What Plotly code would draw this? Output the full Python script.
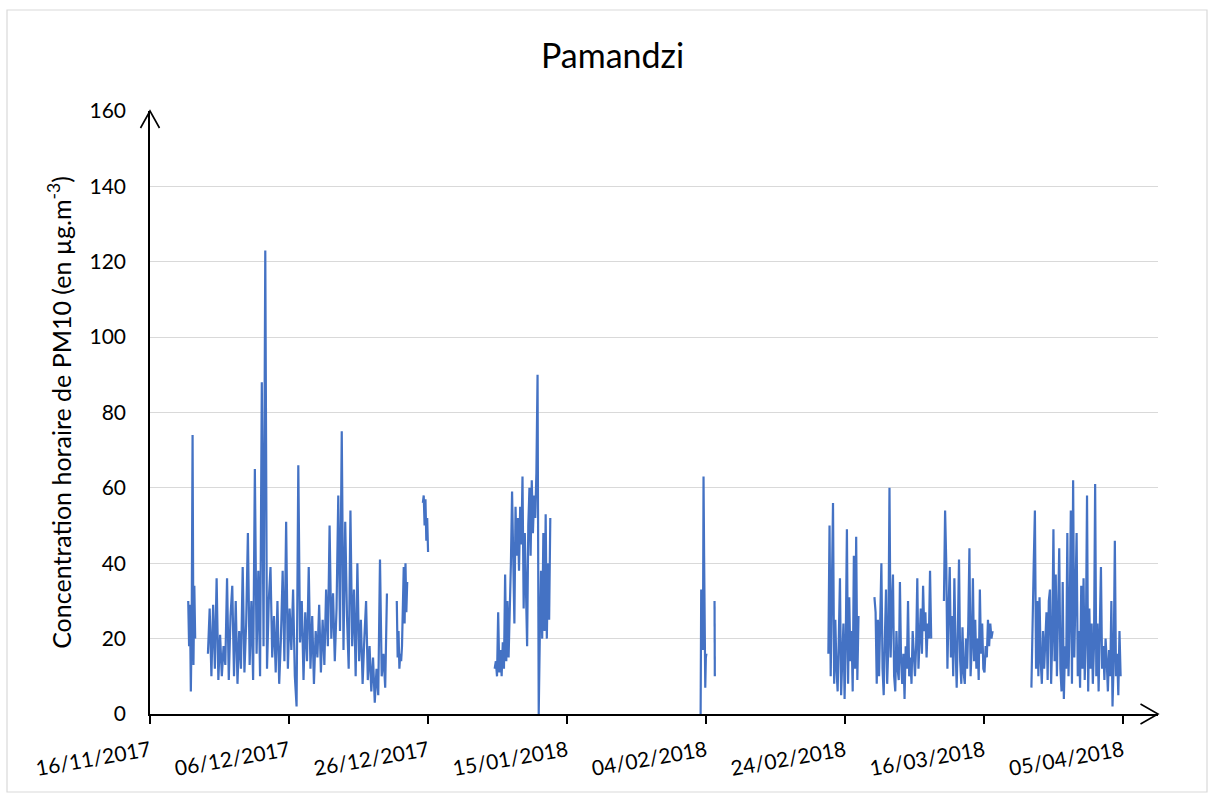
import pandas as pd
import plotly.graph_objects as go

# ---------------- data ----------------
seg1a_start, seg1a_step = "2017-11-21 12:00", "3h"
seg1a_values = [30, 18, 29, 6, 25, 74, 13, 34, 20]

seg1b_start, seg1b_step = "2017-11-24 08:00", "6h"
seg1b_values = [16, 28, 10, 29, 12, 36, 9, 21, 10, 18,
                13, 36, 9, 26, 34, 10, 30, 8, 22, 12,
                39, 11, 24, 48, 13, 30, 9, 65, 16, 38,
                10, 88, 18, 123, 12, 30, 39, 15, 26, 11,
                30, 8, 20, 38, 14, 51, 12, 28, 17, 33,
                10, 2, 66, 19, 30, 9, 27, 14, 39, 12,
                26, 8, 22, 15, 29, 11, 25, 13, 33, 18,
                50, 20, 32, 14, 28, 58, 22, 75, 17, 51,
                26, 12, 54, 18, 33, 10, 40, 14, 25, 8,
                20, 30, 9, 18, 6, 15, 3, 12, 5, 41,
                10, 16, 7, 32]

seg1c_start, seg1c_step = "2017-12-21 12:00", "3h"
seg1c_values = [30, 15, 22, 12, 16, 14, 18, 28, 39, 24, 40, 27, 35]

seg1d_start, seg1d_step = "2017-12-25 06:00", "3h"
seg1d_values = [56, 58, 50, 57, 46, 52, 43]

seg2_start, seg2_step = "2018-01-04 14:00", "4h"
seg2_values = [12, 14, 10, 27, 11, 17, 10, 19, 12, 37,
               14, 30, 15, 27, 40, 59, 35, 24, 55, 42,
               52, 38, 55, 45, 63, 28, 48, 35, 18, 50,
               60, 42, 62, 48, 58, 52, 64, 90, 0, 22,
               38, 20, 48, 22, 53, 20, 40, 25, 52]

seg3a_start, seg3a_step = "2018-02-03 05:00", "2h"
seg3a_values = [0, 33, 20, 31, 17, 63, 42, 25, 7, 15, 16]

seg3b_start, seg3b_step = "2018-02-05 05:00", "1h"
seg3b_values = [30, 10]

seg4_start, seg4_step = "2018-02-21 14:00", "4h"
seg4_values = [16, 50, 10, 28, 56, 8, 25, 12, 6, 20,
               36, 5, 15, 24, 4, 19, 49, 8, 31, 14,
               22, 6, 42, 12, 47, 9, 26]

seg5_start, seg5_step = "2018-02-28 05:00", "4h"
seg5_values = [31, 27, 8, 25, 10, 30, 40, 12, 5, 20,
               33, 8, 18, 60, 15, 28, 37, 10, 6, 22,
               12, 9, 35, 14, 8, 16, 4, 18, 12, 30,
               10, 15, 8, 22, 14, 10, 18, 36, 12, 20,
               28, 16, 34, 22, 27, 15, 24, 20, 38, 20]

seg6_start, seg6_step = "2018-03-10 05:00", "4h"
seg6_values = [30, 54, 40, 12, 28, 39, 15, 26, 10, 36,
               18, 7, 22, 41, 14, 8, 23, 11, 8, 20,
               12, 24, 44, 10, 18, 36, 14, 25, 12, 20,
               9, 33, 16, 24, 12, 11, 18, 15, 25, 18,
               24, 20, 22]

seg7_start, seg7_step = "2018-03-22 19:00", "4h"
seg7_values = [7, 29, 40, 54, 12, 30, 10, 31, 14, 8,
               22, 12, 20, 27, 9, 30, 33, 8, 20, 49,
               14, 37, 10, 25, 44, 12, 6, 35, 4, 18,
               12, 48, 10, 25, 54, 8, 62, 15, 39, 48,
               10, 22, 7, 34, 12, 36, 9, 20, 58, 6,
               28, 12, 24, 8, 18, 61, 10, 24, 6, 20,
               39, 12, 18, 9, 20, 14, 6, 17, 10, 30,
               2, 14, 46, 10, 16, 5, 22, 10]

tick_dates = ["2017-11-16", "2017-12-06", "2017-12-26", "2018-01-15",
              "2018-02-04", "2018-02-24", "2018-03-16", "2018-04-05"]
tick_labels = ["16/11/2017", "06/12/2017", "26/12/2017", "15/01/2018",
               "04/02/2018", "24/02/2018", "16/03/2018", "05/04/2018"]
y_ticks = [0, 20, 40, 60, 80, 100, 120, 140, 160]

title_text = "Pamandzi"
y_title = "Concentration horaire de PM10 (en µg.m<sup>-3</sup>)"

# ---------------- build series ----------------
segments = [
    (seg1a_start, seg1a_step, seg1a_values),
    (seg1b_start, seg1b_step, seg1b_values),
    (seg1c_start, seg1c_step, seg1c_values),
    (seg1d_start, seg1d_step, seg1d_values),
    (seg2_start, seg2_step, seg2_values),
    (seg3a_start, seg3a_step, seg3a_values),
    (seg3b_start, seg3b_step, seg3b_values),
    (seg4_start, seg4_step, seg4_values),
    (seg5_start, seg5_step, seg5_values),
    (seg6_start, seg6_step, seg6_values),
    (seg7_start, seg7_step, seg7_values),
]
xs, ys = [], []
for start, step, vals in segments:
    times = pd.date_range(start, periods=len(vals), freq=step)
    xs.extend(times.strftime("%Y-%m-%d %H:%M:%S").tolist())
    ys.extend(vals)
    last = times[-1] + pd.Timedelta(step)
    xs.append(last.strftime("%Y-%m-%d %H:%M:%S"))
    ys.append(None)

FONT = "Lato, 'DejaVu Sans', sans-serif"

fig = go.Figure()
fig.add_trace(go.Scatter(x=xs, y=ys, mode="lines", connectgaps=False,
                         line=dict(color="#4472C4", width=2.2),
                         showlegend=False))

W, H = 1213, 794
L, R, T, B = 150, 55, 111, 80
pw, ph = W - L - R, H - T - B


def px(dx):
    return dx / pw


def py(dy):
    return dy / ph


shapes = [
    # y-axis arrow head
    dict(type="path", xref="paper", yref="paper",
         path=f"M {-px(9.5)},{1 - py(17)} L 0,1 L {px(9.5)},{1 - py(17)}",
         line=dict(color="black", width=1.6)),
    # x-axis arrow head
    dict(type="path", xref="paper", yref="paper",
         path=f"M {1 - px(17.5)},{py(10)} L 1,0 L {1 - px(17.5)},{-py(10)}",
         line=dict(color="black", width=1.6)),
    # chart border
    dict(type="rect", xref="paper", yref="paper",
         x0=px(7 - L), x1=px(1207 - L),
         y0=-py(B - 2), y1=1 + py(T - 10),
         line=dict(color="#D9D9D9", width=1.2), layer="below"),
]

fig.update_layout(
    width=W, height=H,
    margin=dict(l=L, r=R, t=T, b=B, pad=0, autoexpand=False),
    paper_bgcolor="white", plot_bgcolor="white",
    font=dict(family=FONT, color="black", size=21),
    title=dict(text=title_text, x=0.505, xref="container", y=1 - 56 / H,
               yref="container", xanchor="center", yanchor="middle",
               font=dict(family=FONT, size=34, color="black")),
    shapes=shapes,
    xaxis=dict(type="date", range=["2017-11-16", "2018-04-10"],
               tickvals=tick_dates, ticktext=tick_labels, tickangle=-10,
               ticks="outside", ticklen=8, tickwidth=1.5, tickcolor="black",
               showline=True, linecolor="black", linewidth=1.6,
               showgrid=False, zeroline=False, automargin=False,
               ticklabelstandoff=7,
               tickfont=dict(family=FONT, size=21, color="black")),
    yaxis=dict(range=[0, 160], tickvals=y_ticks, ticks="",
               showline=True, linecolor="black", linewidth=1.6,
               showgrid=True, gridcolor="#D9D9D9", gridwidth=1.3,
               zeroline=False, ticklabelstandoff=18, automargin=False,
               tickfont=dict(family=FONT, size=21, color="black"),
               title=dict(text=y_title, standoff=11,
                          font=dict(family=FONT, size=25, color="black"))),
)

fig.write_html("out.html",
               config={"displayModeBar": False},
               post_script="document.body.style.margin='0px';")
